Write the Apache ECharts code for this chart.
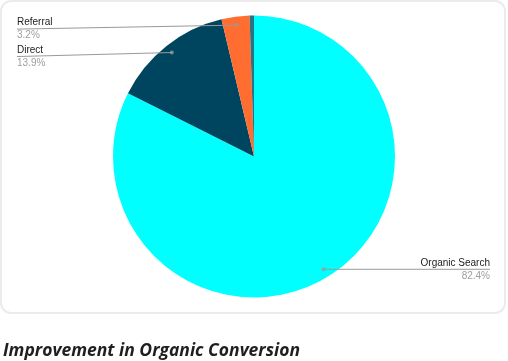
<!DOCTYPE html>
<html>
<head>
<meta charset="utf-8">
<script src="https://cdn.jsdelivr.net/npm/echarts@6/dist/echarts.min.js"></script>
<style>
html,body{margin:0;padding:0;background:#fff;}
#chart{width:508px;height:361px;}
</style>
</head>
<body>
<div id="chart"></div>
<script>
var categories = ['Organic Search', 'Direct', 'Referral', 'Other'];
var values = [82.4, 13.9, 3.2, 0.5];
var colors = ['#00ffff', '#00455f', '#ff6d31', '#2a7383'];
var labelled = [true, true, true, false];
var titleText = 'Improvement in Organic Conversion';

var CX = 254, CY = 156.5, R = 141, DOT_R = 0.94;
var LEFT_EDGE = 17, RIGHT_EDGE = 490;

var total = values.reduce(function (a, b) { return a + b; }, 0);
var mids = [];
var acc = 0;
values.forEach(function (v) { mids.push(acc + v / 2); acc += v; });

function dotPos(i) {
  var ang = mids[i] / total * 2 * Math.PI;
  return [CX + R * DOT_R * Math.sin(ang), CY - R * DOT_R * Math.cos(ang)];
}

var pieData = categories.map(function (c, i) {
  return { name: c, value: values[i], itemStyle: { color: colors[i] } };
});

var labelData = categories.map(function (c, i) {
  return {
    name: c,
    value: values[i],
    label: { show: labelled[i] },
    labelLine: { show: labelled[i] }
  };
});

var dotData = [];
categories.forEach(function (c, i) {
  if (labelled[i]) dotData.push([DOT_R, mids[i]]);
});

var chart = echarts.init(document.getElementById('chart'));
chart.setOption({
  animation: false,
  graphic: [{
    type: 'rect',
    z: -10,
    silent: true,
    shape: { x: 1, y: 1, width: 504, height: 312, r: 10 },
    style: { fill: '#ffffff', stroke: '#ebebeb', lineWidth: 2 }
  }],
  title: {
    text: titleText,
    left: 3,
    top: 342,
    padding: 0,
    textStyle: {
      fontFamily: 'Open Sans',
      fontSize: 17.5,
      fontStyle: 'italic',
      fontWeight: 'bold',
      color: '#1f1f1f'
    }
  },
  polar: { center: [CX, CY], radius: R },
  angleAxis: { type: 'value', min: 0, max: total, startAngle: 90, clockwise: true, show: false },
  radiusAxis: { type: 'value', min: 0, max: 1, show: false },
  series: [{
    type: 'pie',
    z: 2,
    center: [CX, CY],
    radius: R,
    startAngle: 90,
    clockwise: true,
    silent: true,
    data: pieData,
    label: { show: false },
    labelLine: { show: false }
  }, {
    type: 'pie',
    z: 4,
    center: [CX, CY],
    radius: R,
    startAngle: 90,
    clockwise: true,
    silent: true,
    data: labelData,
    itemStyle: { color: 'rgba(0,0,0,0)' },
    label: {
      position: 'outer',
      formatter: function (p) {
        return '{n|' + p.name + '}\n{p|' + p.percent.toFixed(1) + '%}';
      },
      rich: {
        n: { fontFamily: 'Arial', fontSize: 10, color: '#222222', lineHeight: 13 },
        p: { fontFamily: 'Arial', fontSize: 10, color: '#9e9e9e', lineHeight: 13 }
      }
    },
    labelLine: { show: true, lineStyle: { color: '#9a9a9a', width: 1 } },
    labelLayout: function (params) {
      var i = params.dataIndex;
      var d = dotPos(i);
      var left = d[0] < CX;
      var y = left ? d[1] + 4 : d[1];
      var x = left ? LEFT_EDGE : RIGHT_EDGE;
      return {
        x: x,
        y: y,
        align: left ? 'left' : 'right',
        verticalAlign: 'middle',
        labelLinePoints: [d, d, [x, y]]
      };
    }
  }, {
    type: 'scatter',
    coordinateSystem: 'polar',
    data: dotData,
    symbol: 'circle',
    symbolSize: 4,
    silent: true,
    z: 5,
    itemStyle: { color: '#9a9a9a' }
  }]
});
</script>
</body>
</html>
